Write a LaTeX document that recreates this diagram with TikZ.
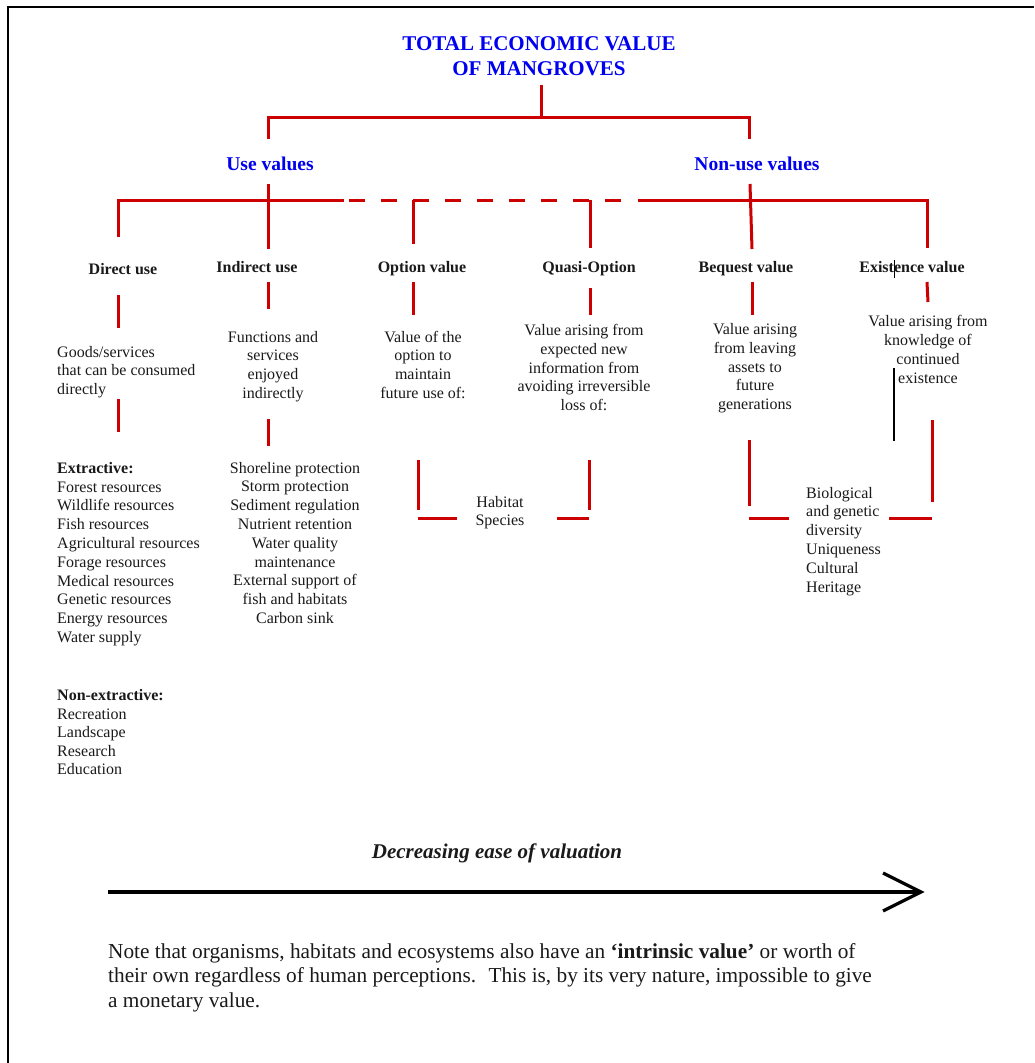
\documentclass[tikz,border=0pt]{standalone}
\usepackage{fontspec}
\setmainfont{Liberation Serif}
\definecolor{tevred}{HTML}{CC0000}
\definecolor{tevblue}{HTML}{0000F0}
\definecolor{ink}{HTML}{1A1A1A}
\begin{document}
\begin{tikzpicture}[x=1pt,y=-1pt,
  redline/.style={draw=tevred,line width=3pt},
  reddash/.style={draw=tevred,line width=3pt,dash pattern=on 16pt off 16pt},
  thinline/.style={draw=black,line width=1.2pt},
  frameline/.style={draw=black,line width=1.8pt},
  arrowline/.style={draw=black,line width=3.3pt},
  titletext/.style={font=\bfseries\fontsize{21}{25}\selectfont,text=tevblue,align=center,anchor=base,inner sep=0pt},
  headtext/.style={font=\bfseries\fontsize{19.5}{23}\selectfont,text=tevblue,anchor=base,inner sep=0pt},
  labeltext/.style={font=\bfseries\fontsize{16}{18.8}\selectfont,text=ink,anchor=base,inner sep=0pt},
  bodyc/.style={font=\fontsize{16}{18.8}\selectfont,text=ink,align=center,anchor=base,inner sep=0pt},
  bodyl/.style={font=\fontsize{16}{18.8}\selectfont,text=ink,align=left,anchor=base west,inner sep=0pt},
  notetext/.style={font=\fontsize{21.3}{24.5}\selectfont,text=ink,align=left,anchor=base west,inner sep=0pt},
  axistext/.style={font=\bfseries\itshape\fontsize{21}{25}\selectfont,text=ink,anchor=base,inner sep=0pt}
]
\useasboundingbox (0,0) rectangle (1034,1063);
\fill[white] (0,0) rectangle (1034,1063);
% frame
\draw[frameline] (8,1063) -- (8,7) -- (1034,7);

% ---------- texts (multi-line nodes are placed by the baseline of their last line) ----------
\node[titletext] (tev) at (539,75) {TOTAL ECONOMIC VALUE\\OF MANGROVES};
\node[headtext] (use) at (270,170) {Use values};
\node[headtext] (nonuse) at (757,170) {Non-use values};

\node[labeltext] (direct) at (123,274) {Direct use};
\node[labeltext] (indirect) at (257,272) {Indirect use};
\node[labeltext] (option) at (422,272) {Option value};
\node[labeltext] (quasi) at (589,272) {Quasi-Option};
\node[labeltext] (bequest) at (746,272) {Bequest value};
\node[labeltext] (exist) at (912,272) {Existence value};

\node[bodyl] (directd) at (57,394.6) {Goods/services\\that can be consumed\\directly};
\node[bodyc] (indirectd) at (273,398.4) {Functions and\\services\\enjoyed\\indirectly};
\node[bodyc] (optiond) at (423,398.4) {Value of the\\option to\\maintain\\future use of:};
\node[bodyc] (quasid) at (584,410.7) {Value arising from\\expected new\\information from\\avoiding irreversible\\loss of:};
\node[bodyc] (bequestd) at (755,409.7) {Value arising\\from leaving\\assets to\\future\\generations};
\node[bodyc] (existd) at (928,383) {Value arising from\\knowledge of\\continued\\existence};

\node[bodyl] (directl) at (57,642.5) {\textbf{Extractive:}\\Forest resources\\Wildlife resources\\Fish resources\\Agricultural resources\\Forage resources\\Medical resources\\Genetic resources\\Energy resources\\Water supply};
\node[bodyl,font=\fontsize{16}{18.4}\selectfont] (nonext) at (57,774.5) {\textbf{Non-extractive:}\\Recreation\\Landscape\\Research\\Education};
\node[bodyc] (indirectl) at (295,623.4) {Shoreline protection\\Storm protection\\Sediment regulation\\Nutrient retention\\Water quality\\maintenance\\External support of\\fish and habitats\\Carbon sink};
\node[bodyc,font=\fontsize{16}{18.5}\selectfont] (habitat) at (500,525.5) {Habitat\\Species};
\node[bodyl] (biol) at (806,592) {Biological\\and genetic\\diversity\\Uniqueness\\Cultural\\Heritage};

\node[axistext] (ease) at (497,858) {Decreasing ease of valuation};
\node[notetext] (note) at (108,1007) {Note that organisms, habitats and ecosystems also have an \textbf{‘intrinsic value’} or worth of\\their own regardless of human perceptions.~ This is, by its very nature, impossible to give\\a monetary value.};

% ---------- connector coordinates ----------
\coordinate (tevS) at (541,85);
\coordinate (tevB) at (541,117);
\coordinate (barL) at (268,117);
\coordinate (barR) at (749,117);
\coordinate (useT) at (268,139);
\coordinate (nonT) at (749,139);
\coordinate (useS) at (268,184);
\coordinate (useE) at (268,249);
\coordinate (nonS) at (750,184);
\coordinate (nonE) at (752,249);
\coordinate (dirE) at (118,237);
\coordinate (dirC) at (118,200);
\coordinate (solidA) at (344,200);
\coordinate (dashA) at (349,200);
\coordinate (dashB) at (621,200);
\coordinate (solidB) at (638,200);
\coordinate (exC) at (927,200);
\coordinate (exE) at (927,248);
\coordinate (optC) at (413,200);
\coordinate (optE) at (413,244);
\coordinate (quaC) at (590,200);
\coordinate (quaE) at (590,248);

% top level
\draw[redline] (tevS) -- (tevB);
\draw[redline] (useT) -- (barL) -- (barR) -- (nonT);
\draw[redline] (useS) -- (useE);
\draw[redline] (nonS) -- (nonE);
% second level bar
\draw[redline] (dirE) -- (dirC) -- (solidA);
\draw[reddash] (dashA) -- (dashB);
\draw[redline] (solidB) -- (exC) -- (exE);
\draw[redline] (optC) -- (optE);
\draw[redline] (quaC) -- (quaE);

% label-to-description stubs
\coordinate (d1a) at (118,295); \coordinate (d1b) at (118,328);
\coordinate (d2a) at (118,399); \coordinate (d2b) at (118,432);
\coordinate (i1a) at (268,282); \coordinate (i1b) at (268,309);
\coordinate (i2a) at (268,419); \coordinate (i2b) at (268,446);
\coordinate (o1a) at (413,282); \coordinate (o1b) at (413,315);
\coordinate (o2a) at (418,460); \coordinate (o2b) at (418,510);
\coordinate (o3a) at (418,518); \coordinate (o3b) at (457,518);
\coordinate (q1a) at (590,288); \coordinate (q1b) at (590,315);
\coordinate (q2a) at (589,460); \coordinate (q2b) at (589,510);
\coordinate (q3a) at (557,518); \coordinate (q3b) at (589,518);
\coordinate (b1a) at (752,282); \coordinate (b1b) at (752,315);
\coordinate (b2a) at (749,440); \coordinate (b2b) at (749,506);
\coordinate (b3a) at (749,518); \coordinate (b3b) at (789,518);
\coordinate (e1a) at (927,282); \coordinate (e1b) at (928,302);
\coordinate (e2a) at (932,420); \coordinate (e2b) at (932,502);
\coordinate (e3a) at (889,518); \coordinate (e3b) at (932,518);
\coordinate (k1a) at (894,368); \coordinate (k1b) at (894,441);
\coordinate (k2a) at (894,260); \coordinate (k2b) at (894,278);

\foreach \p in {d1,d2,i1,i2,o1,o2,o3,q1,q2,q3,b1,b2,b3,e1,e2,e3}
  \draw[redline] (\p a) -- (\p b);
\draw[thinline] (k1a) -- (k1b);
\draw[draw=black,line width=0.9pt] (k2a) -- (k2b);

% arrow
\coordinate (arrL) at (108,892);
\coordinate (arrR) at (921,892);
\coordinate (arrU) at (883,873);
\coordinate (arrD) at (883,911);
\draw[arrowline] (arrL) -- (arrR);
\draw[arrowline] (arrU) -- (arrR) -- (arrD);
\end{tikzpicture}
\end{document}
